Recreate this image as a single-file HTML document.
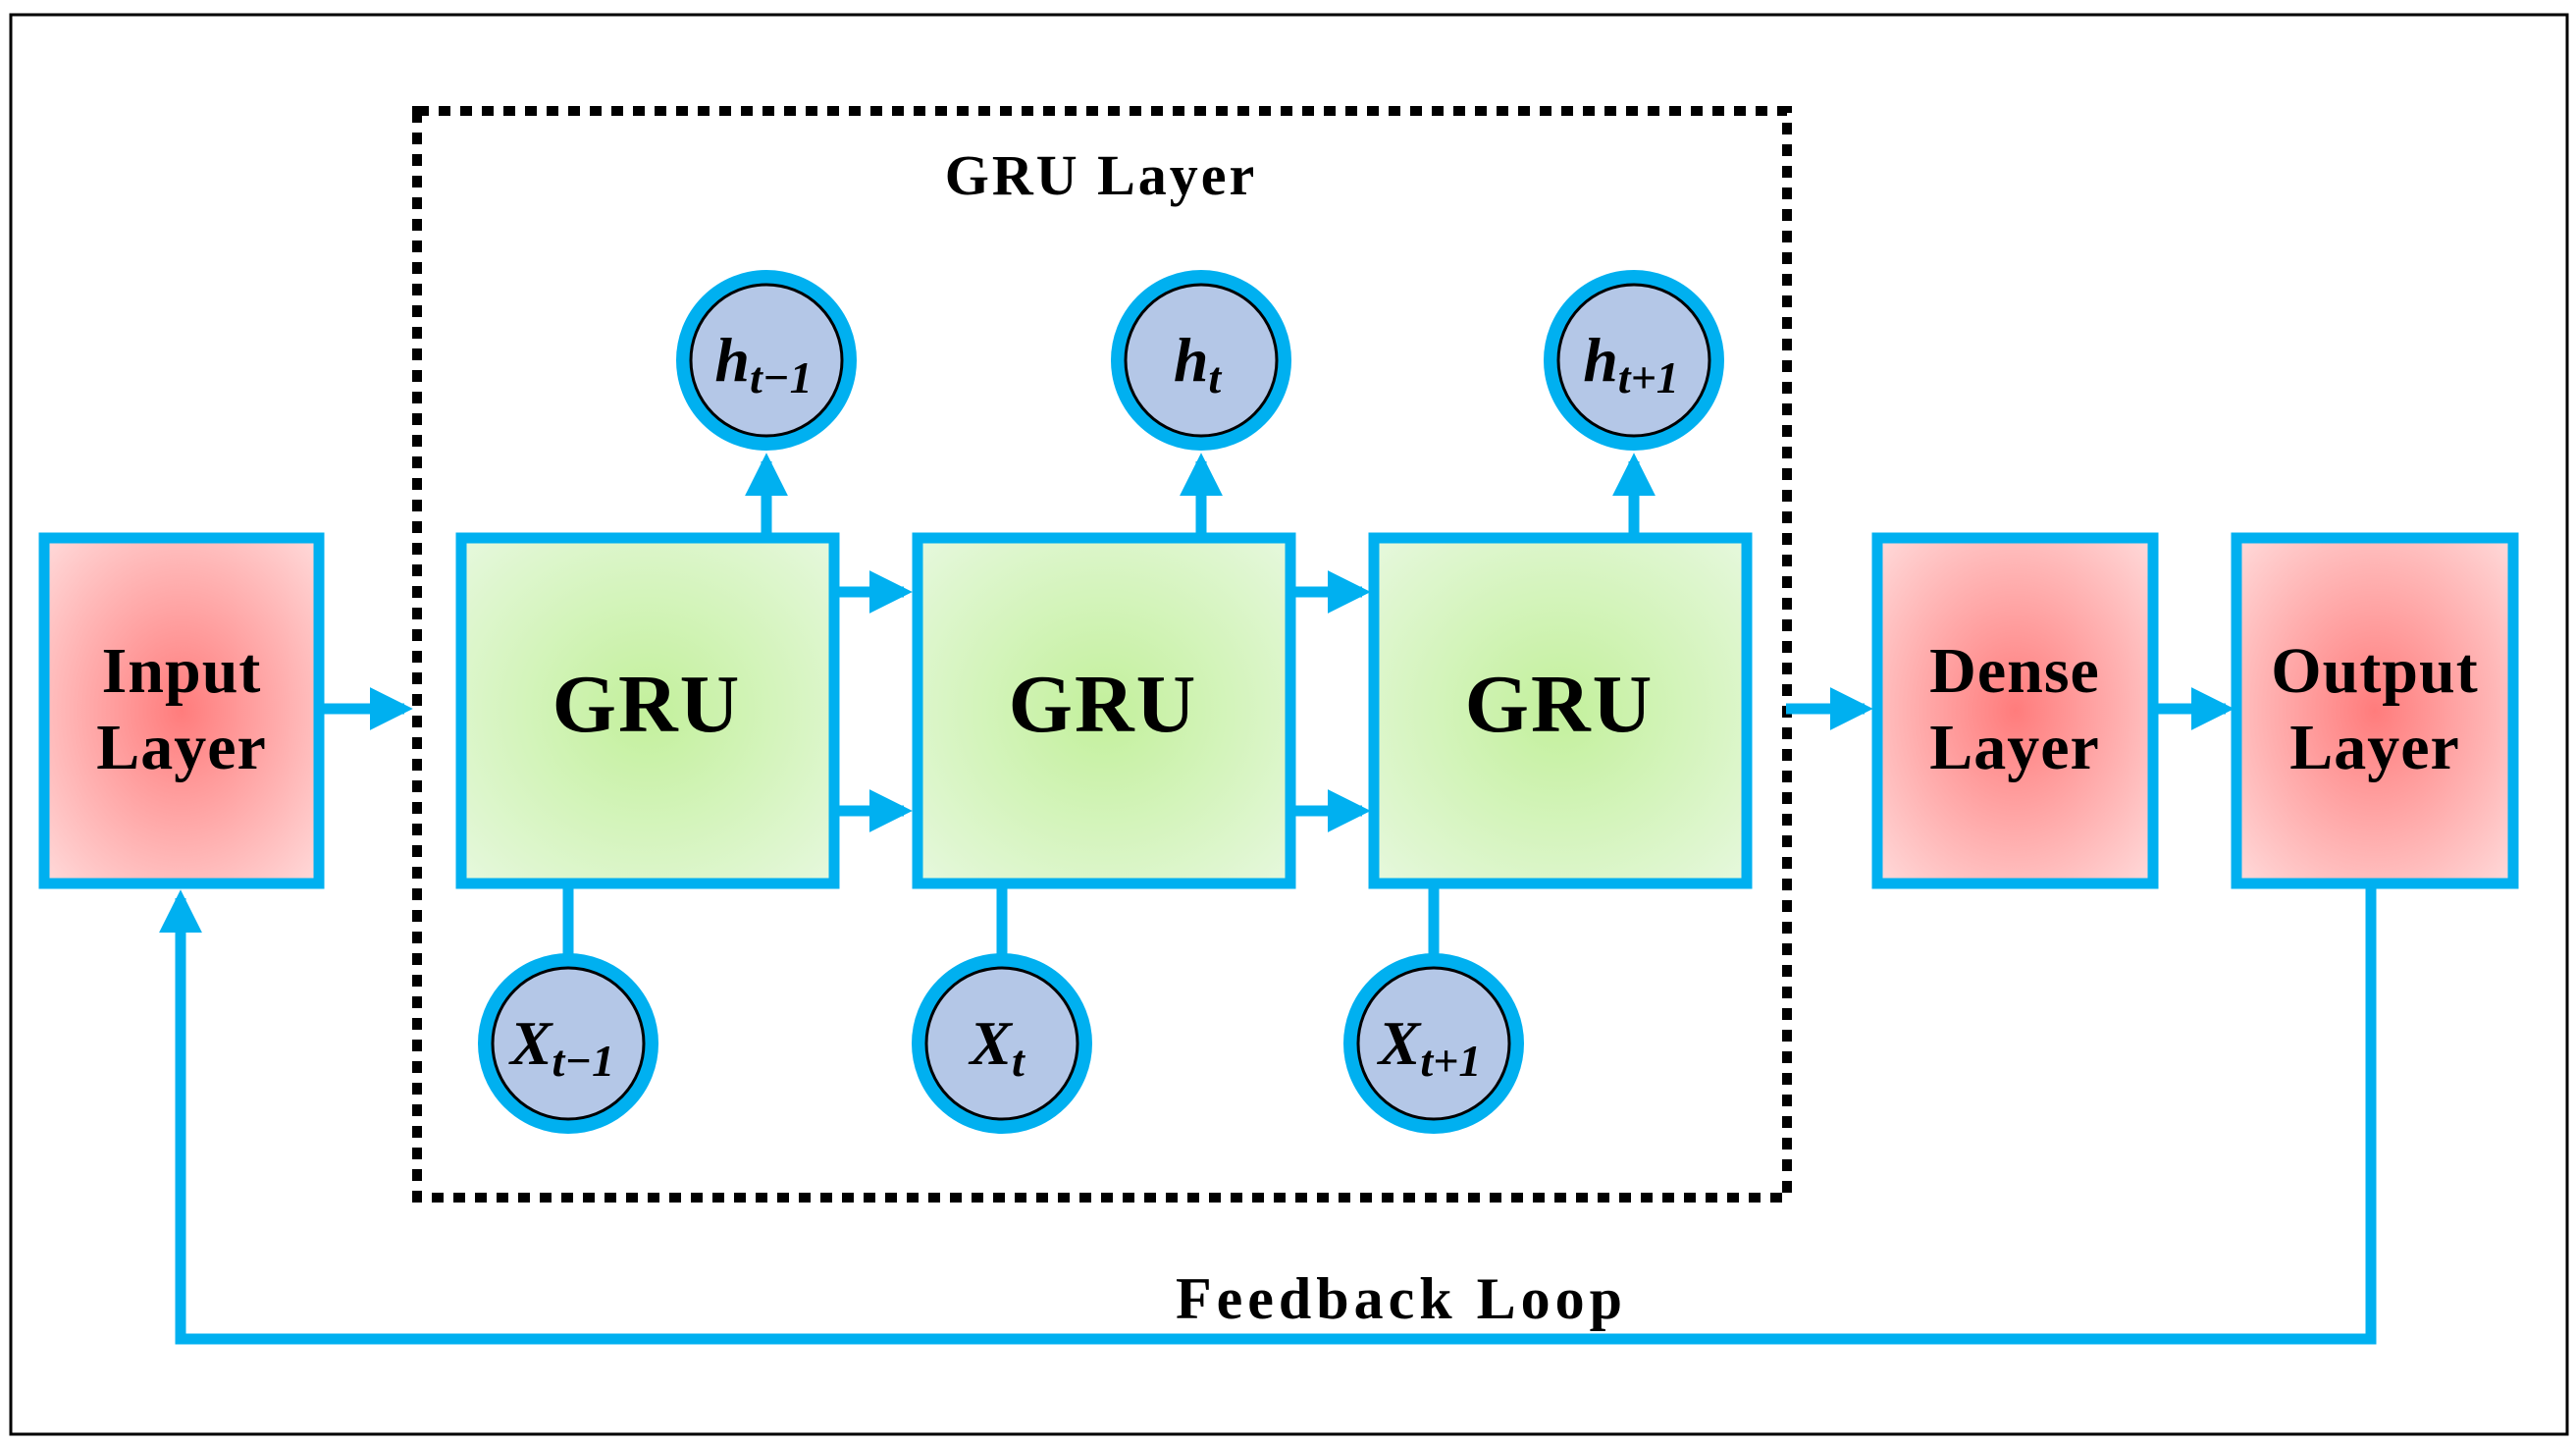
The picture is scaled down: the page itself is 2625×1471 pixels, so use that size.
<!DOCTYPE html>
<html><head><meta charset="utf-8"><style>html,body{margin:0;padding:0;background:#fff}svg{display:block}</style></head>
<body>
<svg width="2625" height="1471" viewBox="0 0 2625 1471" xmlns="http://www.w3.org/2000/svg">
<defs>
<radialGradient id="g" cx="50%" cy="50%" r="70%"><stop offset="0" stop-color="#c3f09c"/><stop offset="1" stop-color="#e6f8dd"/></radialGradient>
<radialGradient id="r" cx="50%" cy="50%" r="70%"><stop offset="0" stop-color="#ff7c7c"/><stop offset="1" stop-color="#ffdada"/></radialGradient>
<marker id="a" markerWidth="4" markerHeight="4" refX="3.2" refY="2" orient="auto" markerUnits="strokeWidth"><path d="M0,0 L4,2 L0,4 z" fill="#00b0f0"/></marker>
</defs>
<rect x="11" y="15" width="2605" height="1446" fill="none" stroke="#000" stroke-width="3"/>
<rect x="425" y="113" width="1396" height="1107" fill="none" stroke="#000" stroke-width="10" stroke-dasharray="12,10"/>
<g font-family="'Liberation Serif',serif" font-weight="bold" fill="#000" text-anchor="middle">
<text x="1122" y="198" font-size="58" letter-spacing="3">GRU Layer</text>
<text x="1428" y="1343" font-size="60" letter-spacing="5">Feedback Loop</text>
</g>
<g stroke="#00b0f0" stroke-width="11" fill="none">
<line x1="324" y1="722" x2="412" y2="722" marker-end="url(#a)"/>
<line x1="849" y1="603" x2="921" y2="603" marker-end="url(#a)"/>
<line x1="849" y1="826" x2="921" y2="826" marker-end="url(#a)"/>
<line x1="1315" y1="603" x2="1388" y2="603" marker-end="url(#a)"/>
<line x1="1315" y1="826" x2="1388" y2="826" marker-end="url(#a)"/>
<line x1="1820" y1="722" x2="1900" y2="722" marker-end="url(#a)"/>
<line x1="2195" y1="722" x2="2268" y2="722" marker-end="url(#a)"/>
<line x1="781" y1="546" x2="781" y2="470" marker-end="url(#a)"/>
<line x1="1224" y1="546" x2="1224" y2="470" marker-end="url(#a)"/>
<line x1="1665" y1="546" x2="1665" y2="470" marker-end="url(#a)"/>
<line x1="579" y1="902" x2="579" y2="985"/>
<line x1="1021" y1="902" x2="1021" y2="985"/>
<line x1="1461" y1="902" x2="1461" y2="985"/>
<polyline points="2416,902 2416,1364 184,1364 184,915" marker-end="url(#a)"/>
<rect x="45" y="548" width="280" height="352" fill="url(#r)"/>
<rect x="470" y="548" width="380" height="352" fill="url(#g)"/>
<rect x="935" y="548" width="380" height="352" fill="url(#g)"/>
<rect x="1400" y="548" width="380" height="352" fill="url(#g)"/>
<rect x="1913" y="548" width="281" height="352" fill="url(#r)"/>
<rect x="2279" y="548" width="282" height="352" fill="url(#r)"/>
</g>
<g fill="#b4c7e7" stroke="#00b0f0" stroke-width="14">
<circle cx="781" cy="367" r="85"/><circle cx="1224" cy="367" r="85"/><circle cx="1665" cy="367" r="85"/>
<circle cx="579" cy="1063" r="85"/><circle cx="1021" cy="1063" r="85"/><circle cx="1461" cy="1063" r="85"/>
</g>
<g fill="none" stroke="#000" stroke-width="3">
<circle cx="781" cy="367" r="77"/><circle cx="1224" cy="367" r="77"/><circle cx="1665" cy="367" r="77"/>
<circle cx="579" cy="1063" r="77"/><circle cx="1021" cy="1063" r="77"/><circle cx="1461" cy="1063" r="77"/>
</g>
<g font-family="'Liberation Serif',serif" font-weight="bold" fill="#000" text-anchor="middle">
<text x="659" y="745" font-size="84" letter-spacing="2">GRU</text>
<text x="1124" y="745" font-size="84" letter-spacing="2">GRU</text>
<text x="1589" y="745" font-size="84" letter-spacing="2">GRU</text>
<text x="185" y="705" font-size="66" letter-spacing="1">Input</text>
<text x="185" y="783" font-size="66" letter-spacing="1">Layer</text>
<text x="2053" y="705" font-size="66" letter-spacing="1">Dense</text>
<text x="2053" y="783" font-size="66" letter-spacing="1">Layer</text>
<text x="2420" y="705" font-size="66" letter-spacing="1">Output</text>
<text x="2420" y="783" font-size="66" letter-spacing="1">Layer</text>
</g>
<g font-family="'Liberation Serif',serif" font-weight="bold" font-style="italic" fill="#000" text-anchor="middle">
<text x="778" y="388" font-size="64">h<tspan font-size="46" dy="12">t−1</tspan></text>
<text x="1220" y="388" font-size="64">h<tspan font-size="46" dy="12">t</tspan></text>
<text x="1662" y="388" font-size="64">h<tspan font-size="46" dy="12">t+1</tspan></text>
<text x="573" y="1084" font-size="64">X<tspan font-size="46" dy="12">t−1</tspan></text>
<text x="1016" y="1084" font-size="64">X<tspan font-size="46" dy="12">t</tspan></text>
<text x="1457" y="1084" font-size="64">X<tspan font-size="46" dy="12">t+1</tspan></text>
</g>
</svg>
</body></html>
